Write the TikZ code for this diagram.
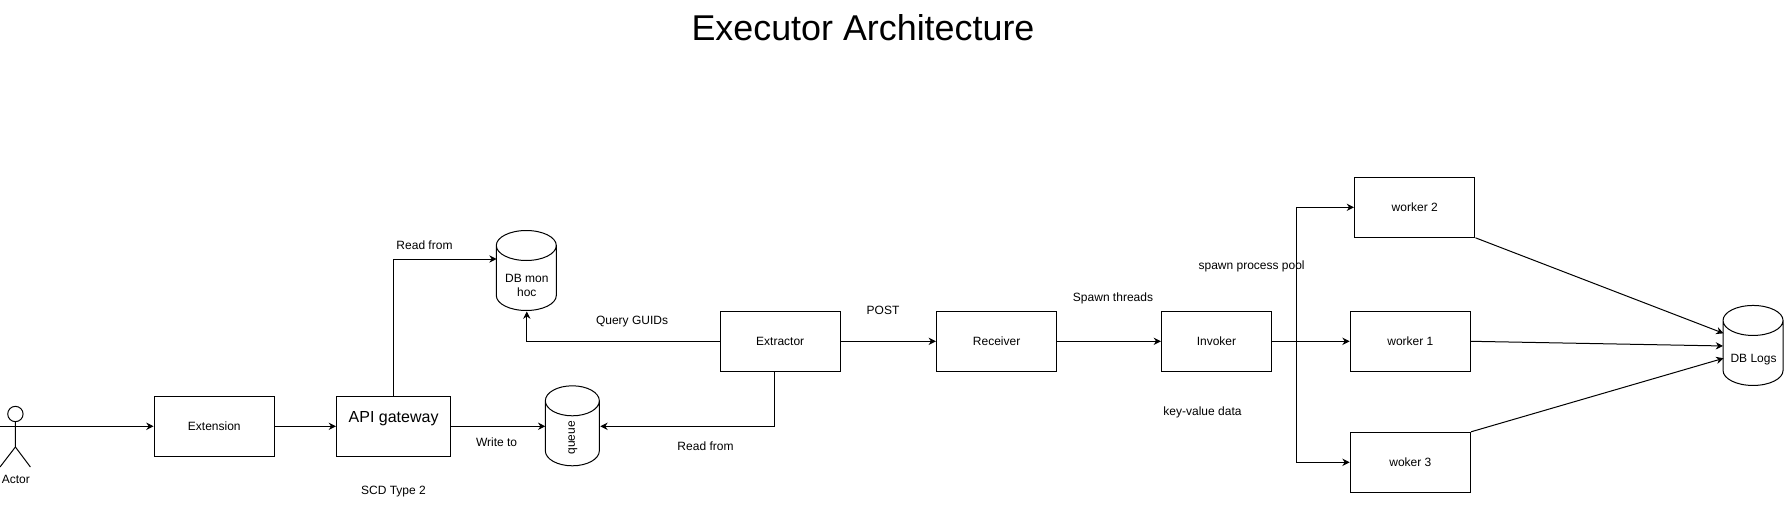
\documentclass[tikz,border=0pt]{standalone}
\usepackage{fontspec}
\setmainfont{Liberation Sans}
\usetikzlibrary{positioning}
\usetikzlibrary{arrows.meta}
\tikzset{
  box/.style={draw,rectangle,minimum width=90.3pt,minimum height=45pt,inner sep=0pt,align=center},
  db/.style={rectangle,minimum width=45pt,minimum height=60pt,inner sep=0pt},
  dbtext/.style={inner sep=0pt,align=center,yshift=-10.7pt},
  lbl/.style={inner sep=0pt,align=center}
}
% outline of a database: node name, x radius
\newcommand{\dbshape}[2]{
  \draw (#1.north west) ++(0,-11.25pt) arc[start angle=180,delta angle=-360,x radius=#2,y radius=11.25pt]
    -- ++(0,-37.5pt) arc[start angle=180,end angle=360,x radius=#2,y radius=11.25pt] -- ++(0,37.5pt);
}
\begin{document}
\begin{tikzpicture}[x=0.75pt,y=-0.75pt,line width=0.75pt,font=\fontsize{9pt}{11pt}\selectfont,>={Stealth[length=5.5pt,width=5.5pt]},on grid,node distance=100pt]
  \useasboundingbox (0,0) rectangle (1784,506);
  \node[lbl,font=\fontsize{26.9pt}{32pt}\selectfont] (title) at (863,28) {Executor Architecture};
  % actor
  \node[draw,circle,minimum size=11.5pt,inner sep=0pt] (head) at (15.4,414) {};
  \coordinate (armL) at (0,426.3);
  \coordinate (armR) at (30.4,426.3);
  \coordinate (hip) at (15.4,447);
  \coordinate (footL) at (0,467);
  \coordinate (footR) at (30.4,467);
  \draw (head) -- (hip) -- (footL);
  \draw (hip) -- (footR);
  \draw (armL) -- (armR);
  \node[lbl] (actor) at (15.8,479.5) {Actor};
  % boxes
  \node[box] (extension) at (214.3,426.3) {Extension};
  \node[box,minimum width=85.7pt,font=\fontsize{12pt}{14.4pt}\selectfont] (api) [right=134.5pt of extension] {API gateway\\\mbox{}};
  \node[db,minimum width=40.5pt,label={[dbtext,yshift=2pt,rotate=90]center:queue}] (queue) [right=134.4pt of api] {};
  \node[db,label={[dbtext]center:DB mon\\hoc}] (dbhoc) at (526.8,271) {};
  \node[box] (extractor) at (780.2,341.3) {Extractor};
  \node[box] (receiver) [right=162.3pt of extractor] {Receiver};
  \node[box,minimum width=82.5pt] (invoker) [right=164.9pt of receiver] {Invoker};
  \node[box] (worker1) [right=145.4pt of invoker] {worker 1};
  \node[box,xshift=3.3pt] (worker2) [above=100.5pt of worker1] {worker 2};
  \node[box] (worker3) [below=90.75pt of worker1] {woker 3};
  \node[db,yshift=-3.5pt,label={[dbtext,yshift=.7pt]center:DB Logs}] (dblogs) [right=257.4pt of worker1] {};
  \dbshape{queue}{20.25pt}
  \dbshape{dbhoc}{22.5pt}
  \dbshape{dblogs}{22.5pt}
  % labels
  \node[lbl] (readhoc) at (424.5,245) {Read from};
  \node[lbl] (writeto) at (496.6,442.7) {Write to};
  \node[lbl] (scd) at (393.5,491.7) {SCD Type 2};
  \node[lbl] (query) at (632,321.5) {Query GUIDs};
  \node[lbl] (readqueue) at (705.5,446.5) {Read from};
  \node[lbl] (post) at (883,310.7) {POST};
  \node[lbl] (spawnt) at (1113,298.5) {Spawn threads};
  \node[lbl] (kv) at (1202.5,412.7) {key-value data};
  \node[lbl] (spawnp) at (1251.6,266.5) {spawn process pool};
  % connectors
  \coordinate (hocin) at (496.6,259);
  \coordinate (split) at (1296.5,341.3);
  \coordinate (ex) at (774.4,371.3);
  \coordinate (logs2) at (1723.5,333.3);
  \coordinate (logs3) at (1723.5,358.3);
  \draw[->] (armR) -- (extension);
  \draw[->] (extension) -- (api);
  \draw[->] (api) -- (queue.west);
  \draw[->] (api.north) |- (hocin);
  \draw[->] (extractor.west) -| (dbhoc.south);
  \draw[->] (ex) |- (queue.east);
  \draw[->] (extractor) -- (receiver);
  \draw[->] (receiver) -- (invoker);
  \draw[->] (invoker) -- (worker1);
  \draw[->] (split) |- (worker2.west);
  \draw[->] (split) |- (worker3.west);
  \draw[->] (worker2.south east) -- (logs2);
  \draw[->] (worker1.east) -- (dblogs.west);
  \draw[->] (worker3.north east) -- (logs3);
\end{tikzpicture}
\end{document}
